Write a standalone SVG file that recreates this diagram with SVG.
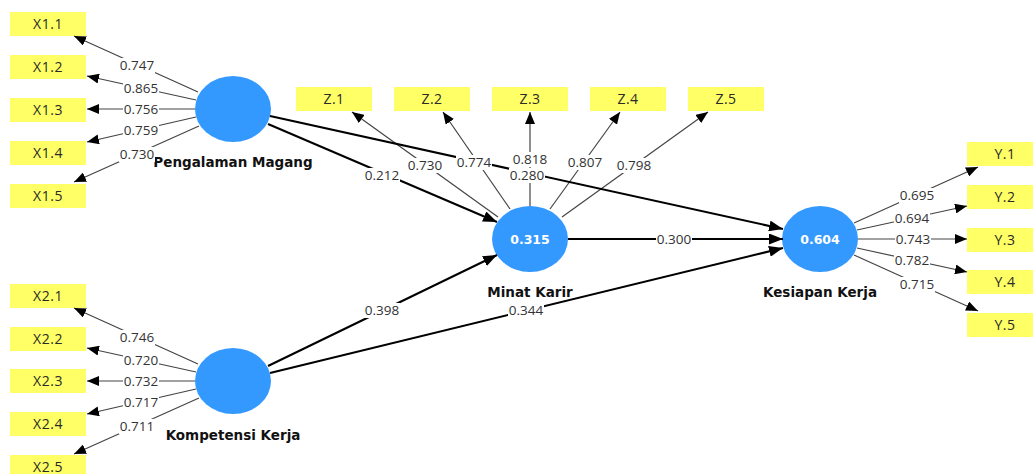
<svg xmlns="http://www.w3.org/2000/svg" width="1033" height="474" viewBox="0 0 1033 474">
<style>
.box{fill:#ffff66}
.bt{font-family:"Open Sans","Noto Sans",sans-serif;font-size:14px;letter-spacing:0.5px;fill:#2a2a2a;text-anchor:middle}
.lv{fill:#3399ff}
.nt{font-family:"DejaVu Sans","Open Sans",sans-serif;font-size:13.5px;font-weight:bold;fill:#111;text-anchor:middle}
.vt{font-family:"DejaVu Sans","Open Sans",sans-serif;font-size:12.5px;font-weight:bold;fill:#fff;text-anchor:middle}
.ind{stroke:#444;stroke-width:1.2;fill:none;marker-end:url(#ah)}
.str{stroke:#000;stroke-width:2;fill:none;marker-end:url(#ah2)}
.lb{fill:#fff}
.lt{font-family:"Open Sans","Noto Sans",sans-serif;font-size:13.5px;fill:#333;text-anchor:middle}
</style>
<defs>
<marker id="ah" markerWidth="12" markerHeight="10" refX="12" refY="5" orient="auto" markerUnits="userSpaceOnUse"><path d="M0,0 L12,5 L0,10 z" fill="#000"/></marker>
<marker id="ah2" markerWidth="14" markerHeight="11" refX="14" refY="5.5" orient="auto" markerUnits="userSpaceOnUse"><path d="M0,0 L14,5.5 L0,11 z" fill="#000"/></marker>
</defs>
<rect width="1033" height="474" fill="#fff"/>

<!-- indicators -->
<g id="X1.1"><rect class="box" x="10" y="12" width="76" height="24"/><text class="bt" x="48" y="29">X1.1</text></g>
<g id="X1.2"><rect class="box" x="10" y="55" width="76" height="24"/><text class="bt" x="48" y="72">X1.2</text></g>
<g id="X1.3"><rect class="box" x="10" y="98" width="76" height="24"/><text class="bt" x="48" y="115">X1.3</text></g>
<g id="X1.4"><rect class="box" x="10" y="141" width="76" height="24"/><text class="bt" x="48" y="158">X1.4</text></g>
<g id="X1.5"><rect class="box" x="10" y="184" width="76" height="24"/><text class="bt" x="48" y="201">X1.5</text></g>

<g id="X2.1"><rect class="box" x="10" y="284" width="76" height="24"/><text class="bt" x="48" y="301">X2.1</text></g>
<g id="X2.2"><rect class="box" x="10" y="327" width="76" height="24"/><text class="bt" x="48" y="344">X2.2</text></g>
<g id="X2.3"><rect class="box" x="10" y="369" width="76" height="24"/><text class="bt" x="48" y="386">X2.3</text></g>
<g id="X2.4"><rect class="box" x="10" y="412" width="76" height="24"/><text class="bt" x="48" y="429">X2.4</text></g>
<g id="X2.5"><rect class="box" x="10" y="455" width="76" height="24"/><text class="bt" x="48" y="472">X2.5</text></g>

<g id="Z.1"><rect class="box" x="296" y="87" width="76" height="24"/><text class="bt" x="334" y="104">Z.1</text></g>
<g id="Z.2"><rect class="box" x="394" y="87" width="76" height="24"/><text class="bt" x="432" y="104">Z.2</text></g>
<g id="Z.3"><rect class="box" x="492" y="87" width="76" height="24"/><text class="bt" x="530" y="104">Z.3</text></g>
<g id="Z.4"><rect class="box" x="590" y="87" width="76" height="24"/><text class="bt" x="628" y="104">Z.4</text></g>
<g id="Z.5"><rect class="box" x="688" y="87" width="76" height="24"/><text class="bt" x="726" y="104">Z.5</text></g>

<g id="Y.1"><rect class="box" x="967" y="142" width="76" height="24"/><text class="bt" x="1005" y="159">Y.1</text></g>
<g id="Y.2"><rect class="box" x="967" y="185" width="76" height="24"/><text class="bt" x="1005" y="202">Y.2</text></g>
<g id="Y.3"><rect class="box" x="967" y="228" width="76" height="24"/><text class="bt" x="1005" y="245">Y.3</text></g>
<g id="Y.4"><rect class="box" x="967" y="270" width="76" height="24"/><text class="bt" x="1005" y="287">Y.4</text></g>
<g id="Y.5"><rect class="box" x="967" y="313" width="76" height="24"/><text class="bt" x="1005" y="330">Y.5</text></g>

<!-- latent variables -->
<g id="PengalamanMagang"><ellipse class="lv" cx="233" cy="109" rx="38" ry="33"/><text class="nt" x="233" y="167">Pengalaman Magang</text></g>
<g id="KompetensiKerja"><ellipse class="lv" cx="233" cy="381" rx="38" ry="33"/><text class="nt" x="233" y="440">Kompetensi Kerja</text></g>
<g id="MinatKarir"><ellipse class="lv" cx="530" cy="239" rx="38" ry="33"/><text class="vt" x="530" y="244">0.315</text><text class="nt" x="530" y="297">Minat Karir</text></g>
<g id="KesiapanKerja"><ellipse class="lv" cx="820" cy="239" rx="38" ry="33"/><text class="vt" x="820" y="244">0.604</text><text class="nt" x="820" y="297">Kesiapan Kerja</text></g>

<!-- connectors -->
<g id="connectors">
<path class="ind" d="M198,92 L74,36"/>
<path class="ind" d="M196,100 L87,76"/>
<path class="ind" d="M195,109 L87,109"/>
<path class="ind" d="M196,117 L87,142"/>
<path class="ind" d="M199,126 L74,182"/>

<path class="ind" d="M198,364 L74,308"/>
<path class="ind" d="M196,372 L87,348"/>
<path class="ind" d="M195,381 L87,381"/>
<path class="ind" d="M196,389 L87,414"/>
<path class="ind" d="M199,398 L74,454"/>

<path class="ind" d="M498,217 L352,112"/>
<path class="ind" d="M510,209 L443,112"/>
<path class="ind" d="M530,206 L530,112"/>
<path class="ind" d="M550,209 L620,112"/>
<path class="ind" d="M562,217 L708,112"/>

<path class="ind" d="M854,223 L978,167"/>
<path class="ind" d="M857,230 L967,206"/>
<path class="ind" d="M858,239 L967,239"/>
<path class="ind" d="M857,248 L967,272"/>
<path class="ind" d="M854,255 L978,311"/>

<path class="str" d="M268,124 L497,222"/>
<path class="str" d="M270,116 L783,229"/>
<path class="str" d="M568,239 L783,239"/>
<path class="str" d="M268,366 L497,255"/>
<path class="str" d="M270,373 L783,248"/>

<g id="labels">
<rect class="lb" x="119" y="58" width="36" height="15"/><text class="lt" x="137" y="70">0.747</text>
<rect class="lb" x="123" y="81" width="36" height="15"/><text class="lt" x="141" y="93">0.865</text>
<rect class="lb" x="123" y="102" width="36" height="15"/><text class="lt" x="141" y="114">0.756</text>
<rect class="lb" x="123" y="123" width="36" height="15"/><text class="lt" x="141" y="135">0.759</text>
<rect class="lb" x="119" y="147" width="36" height="15"/><text class="lt" x="137" y="159">0.730</text>

<rect class="lb" x="119" y="330" width="36" height="15"/><text class="lt" x="137" y="342">0.746</text>
<rect class="lb" x="123" y="353" width="36" height="15"/><text class="lt" x="141" y="365">0.720</text>
<rect class="lb" x="123" y="374" width="36" height="15"/><text class="lt" x="141" y="386">0.732</text>
<rect class="lb" x="123" y="395" width="36" height="15"/><text class="lt" x="141" y="407">0.717</text>
<rect class="lb" x="119" y="419" width="36" height="15"/><text class="lt" x="137" y="431">0.711</text>

<rect class="lb" x="407" y="158" width="36" height="15"/><text class="lt" x="425" y="170">0.730</text>
<rect class="lb" x="456" y="155" width="36" height="15"/><text class="lt" x="474" y="167">0.774</text>
<rect class="lb" x="512" y="152" width="36" height="15"/><text class="lt" x="530" y="164">0.818</text>
<rect class="lb" x="567" y="155" width="36" height="15"/><text class="lt" x="585" y="167">0.807</text>
<rect class="lb" x="616" y="158" width="36" height="15"/><text class="lt" x="634" y="170">0.798</text>

<rect class="lb" x="899" y="188" width="36" height="15"/><text class="lt" x="917" y="200">0.695</text>
<rect class="lb" x="894" y="211" width="36" height="15"/><text class="lt" x="912" y="223">0.694</text>
<rect class="lb" x="895" y="232" width="36" height="15"/><text class="lt" x="913" y="244">0.743</text>
<rect class="lb" x="894" y="253" width="36" height="15"/><text class="lt" x="912" y="265">0.782</text>
<rect class="lb" x="899" y="277" width="36" height="15"/><text class="lt" x="917" y="289">0.715</text>

<rect class="lb" x="364" y="168" width="36" height="15"/><text class="lt" x="382" y="180">0.212</text>
<rect class="lb" x="509" y="168" width="36" height="15"/><text class="lt" x="527" y="180">0.280</text>
<rect class="lb" x="656" y="232" width="36" height="15"/><text class="lt" x="674" y="244">0.300</text>
<rect class="lb" x="364" y="303" width="36" height="15"/><text class="lt" x="382" y="315">0.398</text>
<rect class="lb" x="508" y="303" width="36" height="15"/><text class="lt" x="526" y="315">0.344</text>
</g>
</g>
</svg>
